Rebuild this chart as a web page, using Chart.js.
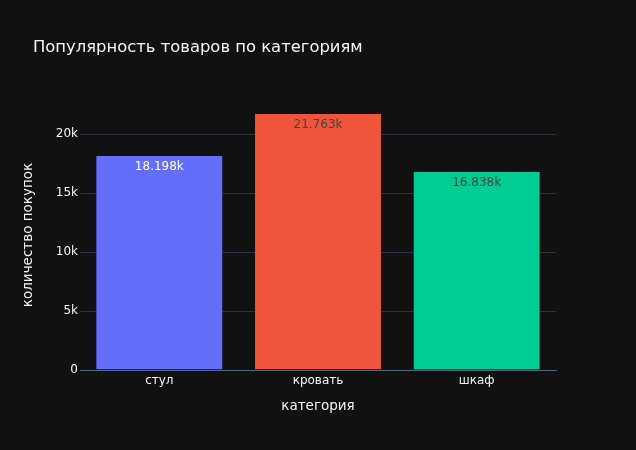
<!DOCTYPE html>
<html>
<head>
<meta charset="utf-8">
<script src="https://cdn.jsdelivr.net/npm/chart.js@4"></script>
<style>
html,body{margin:0;padding:0;background:#111111;}
#wrap{width:636px;height:450px;}
</style>
</head>
<body>
<div id="wrap"><canvas id="c" width="636" height="450"></canvas></div>
<script>
const categories = ["стул", "кровать", "шкаф"];
const purchases = [18198, 21763, 16838];
const barLabels = ["18.198k", "21.763k", "16.838k"];
const yTicks = [0, 5000, 10000, 15000, 20000];
const yTickLabels = ["0", "5k", "10k", "15k", "20k"];
const colors = ["#636efa", "#EF553B", "#00cc96"];
const labelColors = ["#ffffff", "#444444", "#444444"];

const FONT = '"DejaVu Sans", verdana, arial, sans-serif';

const decor = {
  id: 'decor',
  beforeDraw(chart) {
    const ctx = chart.ctx;
    ctx.save();
    ctx.fillStyle = '#111111';
    ctx.fillRect(0, 0, chart.width, chart.height);
    ctx.restore();
  },
  afterDraw(chart) {
    const ctx = chart.ctx;
    const area = chart.chartArea;
    ctx.save();
    ctx.fillStyle = '#f2f5fa';
    ctx.font = '16.4px ' + FONT;
    ctx.textAlign = 'left';
    ctx.textBaseline = 'alphabetic';
    ctx.fillText('Популярность товаров по категориям', 33, 52);
    ctx.font = '13.5px ' + FONT;
    ctx.textAlign = 'center';
    ctx.textBaseline = 'middle';
    ctx.fillText('категория', (area.left + area.right) / 2, 406);
    ctx.save();
    ctx.translate(28, (area.top + area.bottom) / 2);
    ctx.rotate(-Math.PI / 2);
    ctx.fillText('количество покупок', 0, 0);
    ctx.restore();
    const meta = chart.getDatasetMeta(0);
    ctx.font = '12px ' + FONT;
    ctx.textAlign = 'center';
    ctx.textBaseline = 'top';
    meta.data.forEach((bar, i) => {
      ctx.fillStyle = labelColors[i];
      ctx.fillText(barLabels[i], bar.x, bar.y + 5);
    });
    ctx.restore();
  }
};

new Chart(document.getElementById('c'), {
  type: 'bar',
  data: {
    labels: categories,
    datasets: [{
      data: purchases,
      backgroundColor: colors,
      borderColor: '#111111',
      borderWidth: 0.5,
      barPercentage: 0.8,
      categoryPercentage: 1.0
    }]
  },
  options: {
    responsive: false,
    animation: false,
    devicePixelRatio: 1,
    layout: { padding: { top: 100, right: 80, left: 0, bottom: 0 } },
    plugins: { legend: { display: false }, tooltip: { enabled: false }, title: { display: false } },
    scales: {
      x: {
        grid: { display: false, drawTicks: false },
        border: { display: true, color: '#506784', width: 1 },
        ticks: { color: '#f2f5fa', font: { family: FONT, size: 12 }, padding: 4 },
        afterFit(scale) { scale.height = 80; }
      },
      y: {
        min: 0,
        max: 22908,
        afterBuildTicks(scale) { scale.ticks = yTicks.map(v => ({ value: v })); },
        grid: {
          color: (c) => c.tick && c.tick.value === 0 ? '#506784' : '#283442',
          lineWidth: 1,
          drawTicks: false
        },
        border: { display: false },
        ticks: {
          color: '#f2f5fa',
          font: { family: FONT, size: 12 },
          padding: 2,
          callback: (v) => yTickLabels[yTicks.indexOf(v)]
        },
        afterFit(scale) { scale.width = 80; }
      }
    }
  },
  plugins: [decor]
});
</script>
</body>
</html>
